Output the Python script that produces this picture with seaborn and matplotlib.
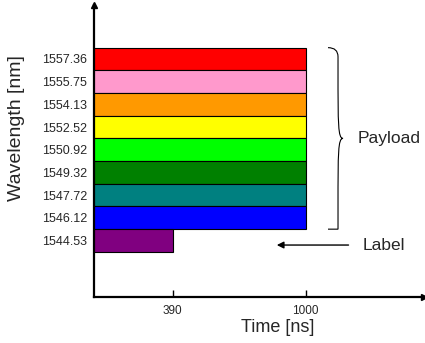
import matplotlib
matplotlib.use("Agg")
import matplotlib.pyplot as plt
from matplotlib.path import Path
from matplotlib.patches import PathPatch
import seaborn as sns

wavelengths = ["1557.36", "1555.75", "1554.13", "1552.52", "1550.92",
               "1549.32", "1547.72", "1546.12", "1544.53"]
durations = [1000, 1000, 1000, 1000, 1000, 1000, 1000, 1000, 390]
colors = ["#FF0000", "#FF99CC", "#FF9900", "#FFFF00", "#00FF00",
          "#008000", "#008080", "#0000FF", "#800080"]
xticks = [390, 1000]

sns.set_style("white")
plt.rcParams["font.family"] = ["Liberation Sans", "DejaVu Sans"]

fig = plt.figure(figsize=(4.25, 3.43), dpi=100)
ax = fig.add_axes([94 / 425, 46 / 343, 330 / 425, 292 / 343])

sns.barplot(x=durations, y=wavelengths, hue=wavelengths, order=wavelengths,
            hue_order=wavelengths, palette=colors, saturation=1, orient="h",
            width=1.0, edgecolor="black", linewidth=0.8, legend=False, ax=ax)

ax.set_xlim(28, 1544)
ax.set_ylim(8 + 2.49, -2.38)

for s in ["top", "right"]:
    ax.spines[s].set_visible(False)
for s in ["left", "bottom"]:
    ax.spines[s].set_linewidth(1.6)
    ax.spines[s].set_color("black")

# axis arrows
ax.plot(1, 0, ">", color="black", markersize=5, transform=ax.transAxes, clip_on=False)
ax.plot(0, 1, "^", color="black", markersize=5, transform=ax.transAxes, clip_on=False)

ax.set_xticks(xticks)
ax.set_xticklabels([str(t) for t in xticks], fontsize=8.5)
ax.tick_params(axis="x", bottom=True, direction="in", length=5, width=1,
               pad=6, color="black")
ax.tick_params(axis="y", left=False, length=0, pad=5, labelsize=9)

ax.set_xlabel("Time [ns]", fontsize=13)
ax.xaxis.set_label_coords(0.558, -0.075)
ax.set_ylabel("Wavelength [nm]", fontsize=14)
ax.yaxis.set_label_coords(-0.21, 0.579)

# payload brace
x0, x1, x2 = 1103, 1149, 1172
ytop, ymid, ybot = -0.5, 3.5, 7.5
verts = [(x0, ytop), (x1, ytop), (x1, ytop + 0.4), (x1, ytop + 1.0),
         (x1, ymid - 0.6), (x1, ymid), (x2, ymid),
         (x1, ymid), (x1, ymid + 0.6), (x1, ybot - 1.0),
         (x1, ybot - 0.4), (x1, ybot), (x0, ybot)]
codes = [Path.MOVETO, Path.CURVE3, Path.CURVE3, Path.LINETO,
         Path.CURVE4, Path.CURVE4, Path.CURVE4,
         Path.CURVE4, Path.CURVE4, Path.CURVE4,
         Path.CURVE3, Path.CURVE3, Path.LINETO]
ax.add_patch(PathPatch(Path(verts, codes), facecolor="none", edgecolor="black",
                       linewidth=0.8, clip_on=False))
ax.text(1240, ymid, "Payload", fontsize=12.5, va="center", ha="left")

# label arrow
ax.annotate("", xy=(855, 8.2), xytext=(1210, 8.2),
            arrowprops=dict(arrowstyle="-|>", color="black", lw=1, mutation_scale=10))
ax.text(1260, 8.2, "Label", fontsize=12.5, va="center", ha="left")

fig.savefig("out.png", dpi=100)
